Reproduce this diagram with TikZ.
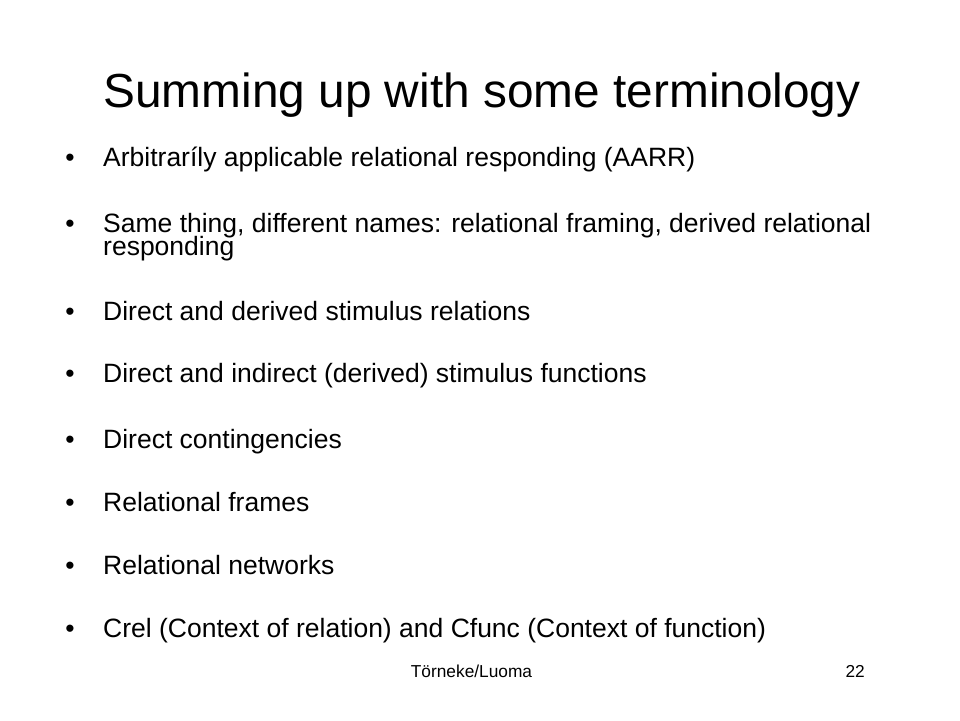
\documentclass[tikz,border=0pt]{standalone}
\usepackage{fontspec}
\setmainfont{Liberation Sans}
\begin{document}
\begin{tikzpicture}[x=1pt,y=-1pt,
  bodytext/.style={anchor=base west,inner sep=0pt,font=\fontsize{26.5}{23}\selectfont},
  bulletmark/.style={anchor=base,inner sep=0pt,font=\fontsize{26.5}{23}\selectfont},
  titletext/.style={anchor=base,inner sep=0pt,font=\fontsize{47.8}{50}\selectfont},
  foottext/.style={anchor=base,inner sep=0pt,font=\fontsize{17.3}{18}\selectfont}]
\useasboundingbox[fill=white] (0,0) rectangle (960,720);
\node[titletext] (title) at (482,107) {Summing up with some terminology};
\foreach \y/\t [count=\i] in {
  166/{Arbitraríly applicable relational responding (AARR)},
  232/{Same thing, different names: relational framing, derived relational},
  320/{Direct and derived stimulus relations},
  382/{Direct and indirect (derived) stimulus functions},
  448/{Direct contingencies},
  511/{Relational frames},
  574/{Relational networks},
  637/{Crel (Context of relation) and Cfunc (Context of function)}}{
  \node[bulletmark] (b\i) at (70,\y) {•};
  \node[bodytext] (item\i) at (103,\y) {\t};
}
\node[bodytext] (item2b) at (103,255) {responding};
\node[foottext] (foot) at (471.5,677) {Törneke/Luoma};
\node[foottext,anchor=base east] (page) at (865,677) {22};
\end{tikzpicture}
\end{document}
